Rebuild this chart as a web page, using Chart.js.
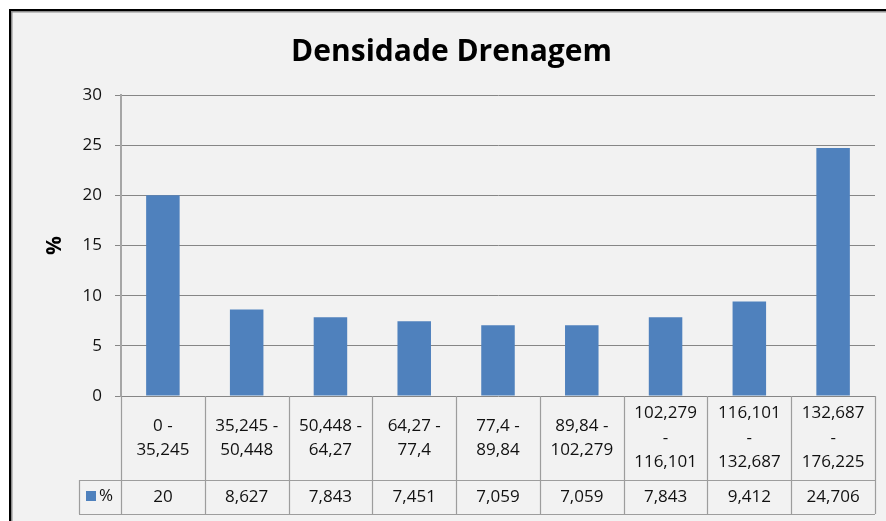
<!DOCTYPE html>
<html>
<head>
<meta charset="utf-8">
<script src="https://cdn.jsdelivr.net/npm/chart.js@4/dist/chart.umd.min.js"></script>
<style>
  html, body { margin: 0; padding: 0; background: #ffffff; }
  #wrap { width: 886px; height: 521px; position: relative; }
</style>
</head>
<body>
<div id="wrap"><canvas id="c" width="886" height="521"></canvas></div>
<script>
// ---- data ----
const chartTitle = "Densidade Drenagem";
const seriesName = "%";
const categories = [
  ["0 -", "35,245"],
  ["35,245 -", "50,448"],
  ["50,448 -", "64,27"],
  ["64,27 -", "77,4"],
  ["77,4 -", "89,84"],
  ["89,84 -", "102,279"],
  ["102,279", "-", "116,101"],
  ["116,101", "-", "132,687"],
  ["132,687", "-", "176,225"]
];
const values = [20, 8.627, 7.843, 7.451, 7.059, 7.059, 7.843, 9.412, 24.706];
const yTicks = [0, 5, 10, 15, 20, 25, 30];

const BAR = "#4f81bd";
const FONT = "'Open Sans', 'Liberation Sans', sans-serif";

function fmt(v) { return String(v).replace(".", ","); }

const framePlugin = {
  id: "frame",
  beforeDraw(chart) {
    const ctx = chart.ctx;
    ctx.save();
    ctx.fillStyle = "#ffffff";
    ctx.fillRect(0, 0, chart.width, chart.height);
    ctx.fillStyle = "#f2f2f2";
    ctx.fillRect(10, 10, chart.width, chart.height);
    ctx.fillStyle = "#000000";
    ctx.fillRect(9, 9, chart.width, 2);
    ctx.fillRect(9, 9, 2, chart.height);
    ctx.fillStyle = "#8c8c8c";
    ctx.fillRect(11, 11, chart.width, 1.5);
    ctx.fillRect(11, 11, 1.5, chart.height);
    ctx.restore();
  }
};

const tablePlugin = {
  id: "datatable",
  afterDraw(chart) {
    const ctx = chart.ctx;
    const x = chart.scales.x;
    const area = chart.chartArea;
    const n = categories.length;
    const step = (x.getPixelForValue(1) - x.getPixelForValue(0));
    const top = area.bottom;
    const rowMid = top + 84;
    const bottom = rowMid + 34;
    const legendLeft = 79;
    ctx.save();
    ctx.strokeStyle = "#9d9d9d";
    ctx.lineWidth = 1.2;
    ctx.beginPath();
    ctx.moveTo(legendLeft, rowMid + 0.5); ctx.lineTo(area.right, rowMid + 0.5);
    ctx.moveTo(legendLeft, bottom + 0.5); ctx.lineTo(area.right, bottom + 0.5);
    for (let i = 0; i <= n; i++) {
      const px = Math.round(x.getPixelForValue(i) - step / 2) + 0.5;
      ctx.moveTo(px, top); ctx.lineTo(px, bottom);
    }
    ctx.moveTo(legendLeft + 0.5, rowMid); ctx.lineTo(legendLeft + 0.5, bottom);
    ctx.stroke();

    ctx.fillStyle = "#111111";
    ctx.font = "17px " + FONT;
    ctx.textAlign = "center";
    ctx.textBaseline = "middle";
    const catMid = (top + rowMid) / 2;
    const lh = 24.5;
    for (let i = 0; i < n; i++) {
      const cx = x.getPixelForValue(i);
      const lines = categories[i];
      const y0 = catMid - (lines.length - 1) * lh / 2;
      lines.forEach((t, k) => ctx.fillText(t, cx, y0 + k * lh));
      ctx.fillText(fmt(values[i]), cx, (rowMid + bottom) / 2);
    }
    ctx.fillStyle = BAR;
    ctx.fillRect(86, 491, 10, 10);
    ctx.fillStyle = "#111111";
    ctx.textAlign = "left";
    ctx.fillText(seriesName, 99, (rowMid + bottom) / 2 - 1);
    ctx.restore();
  }
};

new Chart(document.getElementById("c"), {
  type: "bar",
  data: {
    labels: categories.map(c => c.join(" ")),
    datasets: [{
      label: seriesName,
      data: values,
      backgroundColor: BAR,
      borderWidth: 0,
      barPercentage: 0.4,
      categoryPercentage: 1.0
    }]
  },
  options: {
    responsive: false,
    animation: false,
    devicePixelRatio: 1,
    layout: { padding: { top: 9, left: 28, right: 11, bottom: 125 } },
    plugins: {
      legend: { display: false },
      tooltip: { enabled: false },
      title: {
        display: true,
        text: chartTitle,
        color: "#000000",
        font: { family: FONT, size: 30, weight: "bold", lineHeight: 1.2 },
        padding: { top: 25, bottom: 25 }
      }
    },
    scales: {
      x: { display: false },
      y: {
        min: 0, max: 30,
        afterBuildTicks(scale) { scale.ticks = yTicks.map(v => ({ value: v })); },
        afterFit(scale) { scale.width = 121 - 28; },
        ticks: {
          color: "#111111",
          padding: 13,
          font: { family: FONT, size: 17 }
        },
        grid: { color: "#868686", lineWidth: 1, tickLength: 6, tickColor: "#868686" },
        border: { display: true, color: "#a6a6a6", width: 2 },
        title: {
          display: true,
          text: seriesName,
          color: "#000000",
          font: { family: FONT, size: 21, weight: "bold" },
          padding: { top: 14, bottom: 0 }
        }
      }
    }
  },
  plugins: [framePlugin, tablePlugin]
});
</script>
</body>
</html>
